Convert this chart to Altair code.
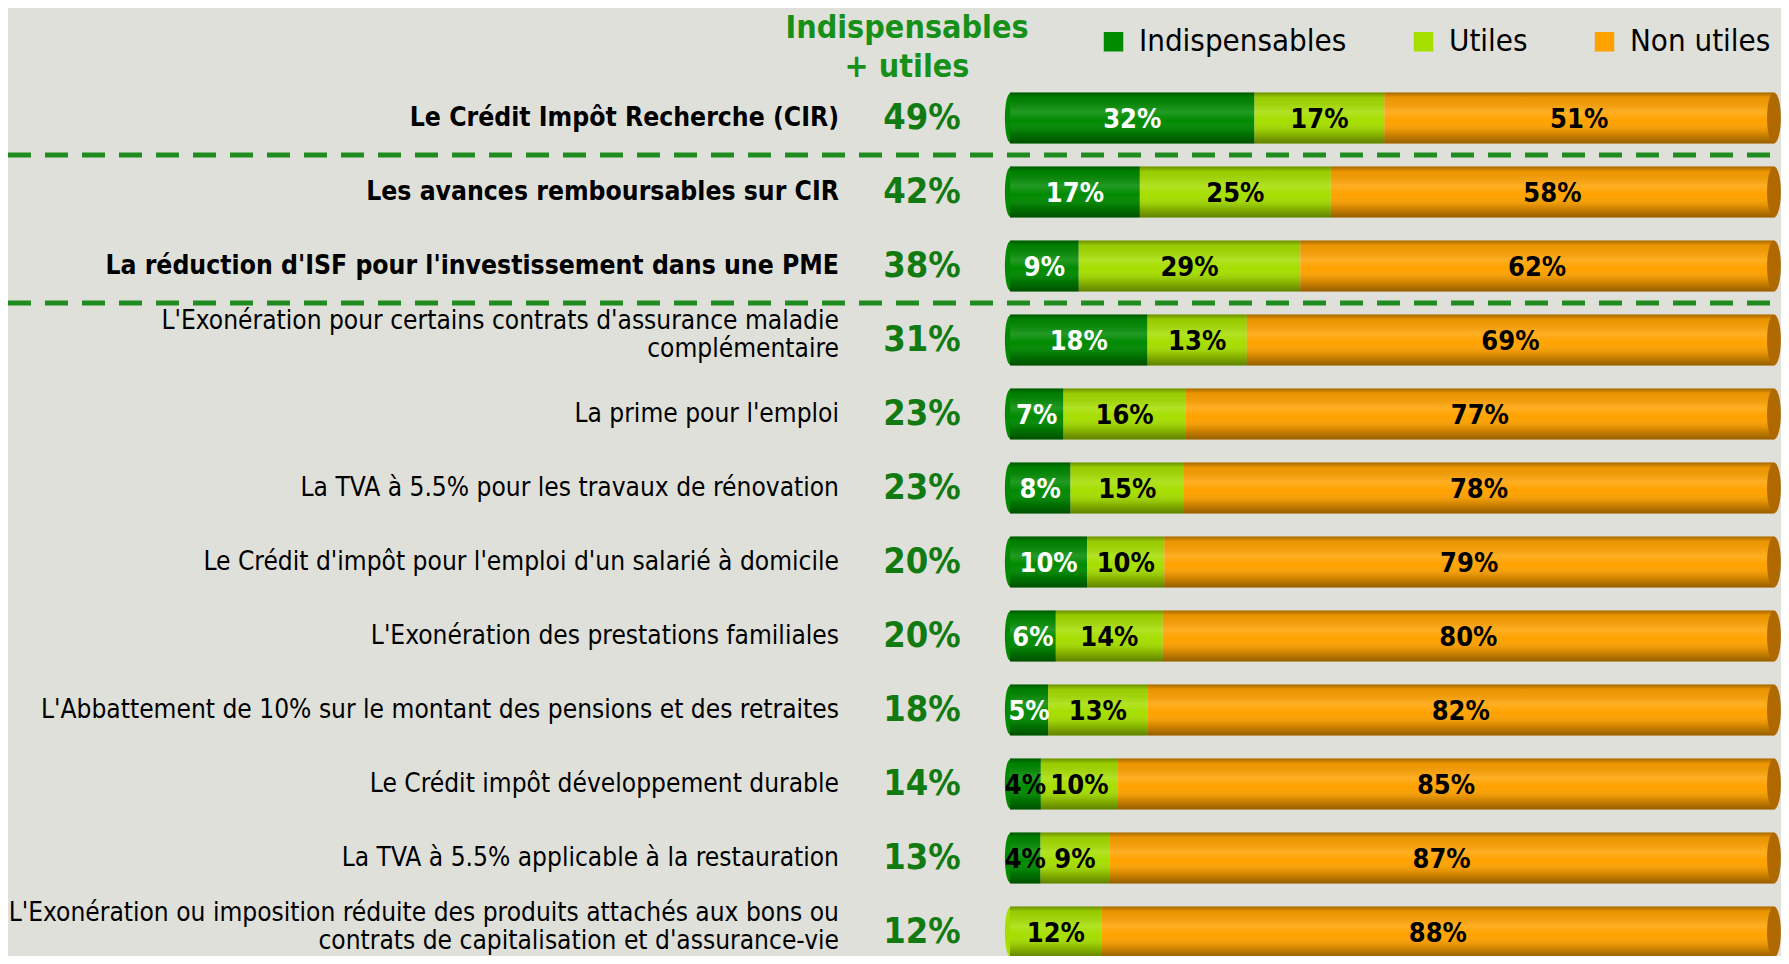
import altair as alt
import pandas as pd

categories = [
    "Le Crédit Impôt Recherche (CIR)",
    "Les avances remboursables sur CIR",
    "La réduction d'ISF pour l'investissement dans une PME",
    "L'Exonération pour certains contrats d'assurance maladie\ncomplémentaire",
    "La prime pour l'emploi",
    "La TVA à 5.5% pour les travaux de rénovation",
    "Le Crédit d'impôt pour l'emploi d'un salarié à domicile",
    "L'Exonération des prestations familiales",
    "L'Abbattement de 10% sur le montant des pensions et des retraites",
    "Le Crédit impôt développement durable",
    "La TVA à 5.5% applicable à la restauration",
    "L'Exonération ou imposition réduite des produits attachés aux bons ou\ncontrats de capitalisation et d'assurance-vie",
]
indispensables = [32, 17, 9, 18, 7, 8, 10, 6, 5, 4, 4, 0]
utiles = [17, 25, 29, 13, 16, 15, 10, 14, 13, 10, 9, 12]
non_utiles = [51, 58, 62, 69, 77, 78, 79, 80, 82, 85, 87, 88]
totals = [49, 42, 38, 31, 23, 23, 20, 20, 18, 14, 13, 12]
n_bold = 3
separators_after = [0, 2]
series = ["Indispensables", "Utiles", "Non utiles"]
colors = ["#008a00", "#a6de00", "#ffa200"]

FONT = "DejaVu Sans Condensed"

rows = pd.DataFrame({
    "row": list(range(len(categories))),
    "label": categories,
    "total": [f"{t}%" for t in totals],
})
rows["bold"] = rows["row"] < n_bold

long_rows = []
for i in range(len(categories)):
    for k, (s, vals) in enumerate(zip(series, [indispensables, utiles, non_utiles])):
        long_rows.append({"row": i, "series": s, "order": k, "value": vals[i]})
long_df = pd.DataFrame(long_rows)

seps = pd.DataFrame({"after": separators_after})

yscale = alt.Scale(domain=[-1.4865, 11.3243], reverse=True, nice=False, zero=False, padding=0)
xscale = alt.Scale(domain=[-1.3115, 1.0092], nice=False, zero=False, padding=0)
Y = alt.Y("row:Q", scale=yscale, axis=None)
color_scale = alt.Scale(domain=series, range=colors)

stacked = alt.Chart(long_df).transform_stack(
    stack="value", groupby=["row"], as_=["x0", "x1"], offset="normalize",
    sort=[alt.SortField("order", order="ascending")],
).transform_calculate(mid="(datum.x0 + datum.x1) / 2")

bars = stacked.mark_bar(orient="horizontal", size=51).encode(
    x=alt.X("x0:Q", scale=xscale, axis=None),
    x2="x1:Q",
    y=Y,
    color=alt.Color(
        "series:N",
        scale=color_scale,
        legend=alt.Legend(
            orient="none", legendX=1090, legendY=18, direction="horizontal",
            title=None, symbolType="square", symbolSize=380, symbolStrokeWidth=0,
            labelFont=FONT, labelFontSize=31, labelColor="black", labelOffset=10,
            columnPadding=61, labelLimit=400,
        ),
    ),
)

# rounded left end of each bar, in the colour of its first segment
left_cap = stacked.transform_filter("datum.value > 0 && datum.x0 == 0").mark_point(
    shape="M0,-0.96 A0.2,0.96 0 1,0 0,0.96 Z",
    size=2601, filled=True, opacity=1, strokeWidth=0,
).encode(
    x=alt.X("x0:Q", scale=xscale, axis=None),
    y=Y,
    color=alt.Color("series:N", scale=color_scale, legend=None),
)

shade = alt.Chart(rows).transform_calculate(zero="0", one="1").mark_bar(
    orient="horizontal", size=51,
    fill=alt.Gradient(
        gradient="linear", x1=0, x2=0, y1=0, y2=1,
        stops=[
            alt.GradientStop(offset=0, color="rgba(0,0,0,0.35)"),
            alt.GradientStop(offset=0.1, color="rgba(0,0,0,0.08)"),
            alt.GradientStop(offset=0.38, color="rgba(255,255,255,0.14)"),
            alt.GradientStop(offset=0.55, color="rgba(255,255,255,0.0)"),
            alt.GradientStop(offset=0.8, color="rgba(0,0,0,0.16)"),
            alt.GradientStop(offset=1, color="rgba(0,0,0,0.42)"),
        ],
    ),
).encode(x=alt.X("zero:Q", scale=xscale, axis=None), x2="one:Q", y=Y)

cap = alt.Chart(rows).transform_calculate(one="1").mark_point(
    shape="M0,-1 A0.27,1 0 1,1 0,1 A0.27,1 0 1,1 0,-1 Z",
    size=2601, filled=True, opacity=1, color="#b06800", strokeWidth=0,
).encode(x=alt.X("one:Q", scale=xscale, axis=None), y=Y)

seg_labels = stacked.transform_filter("datum.value > 0").transform_calculate(
    txt="datum.value + '%'"
).mark_text(font=FONT, fontSize=27, fontWeight="bold", baseline="middle", dy=2).encode(
    x=alt.X("mid:Q", scale=xscale, axis=None),
    y=Y,
    text="txt:N",
    color=alt.condition("datum.series == 'Indispensables' && datum.value > 4",
                        alt.value("white"), alt.value("black")),
)

MULTI = "indexof(datum.label, '\\n') >= 0"

cat_bold = alt.Chart(rows).transform_filter("datum.bold").mark_text(
    font=FONT, fontSize=26.3, fontWeight="bold", align="right", baseline="middle",
    color="black",
).encode(x=alt.value(831), y=Y, text="label:N")

cat_norm1 = alt.Chart(rows).transform_filter("!datum.bold && !(" + MULTI + ")").mark_text(
    font=FONT, fontSize=26.1, align="right", baseline="middle", color="black",
).encode(x=alt.value(831), y=Y, text="label:N")

cat_norm2 = alt.Chart(rows).transform_filter("!datum.bold && (" + MULTI + ")").mark_text(
    font=FONT, fontSize=26.1, align="right", baseline="middle", color="black",
    lineBreak="\n", lineHeight=28, dy=-19,
).encode(x=alt.value(831), y=Y, text="label:N")

tot = alt.Chart(rows).mark_text(
    font=FONT, fontSize=36, fontWeight="bold", align="center", baseline="middle",
    color="#117a11",
).encode(x=alt.value(914), y=Y, text="total:N")

head = alt.Chart(pd.DataFrame({"t": ["Indispensables\n+ utiles"]})).mark_text(
    font=FONT, fontSize=32, fontWeight="bold", align="center", baseline="top",
    color="#17901a", lineBreak="\n", lineHeight=39,
).encode(x=alt.value(899), y=alt.value(5), text="t:N")

rules = alt.Chart(seps).transform_calculate(pos="datum.after + 0.5").mark_rule(
    strokeDash=[23, 14], strokeWidth=5, color="#1e8c1e",
).encode(y=alt.Y("pos:Q", scale=yscale, axis=None), x=alt.value(0), x2=alt.value(1773))

chart = alt.layer(
    bars, left_cap, shade, cap, seg_labels, rules, cat_bold, cat_norm1, cat_norm2, tot, head
).properties(
    width=1773, height=948, padding=0,
    autosize=alt.AutoSizeParams(type="none"),
    background="#DFE0DA",
).configure_view(stroke=None)

chart.save("out.html", embed_options={"renderer": "svg", "actions": False})
